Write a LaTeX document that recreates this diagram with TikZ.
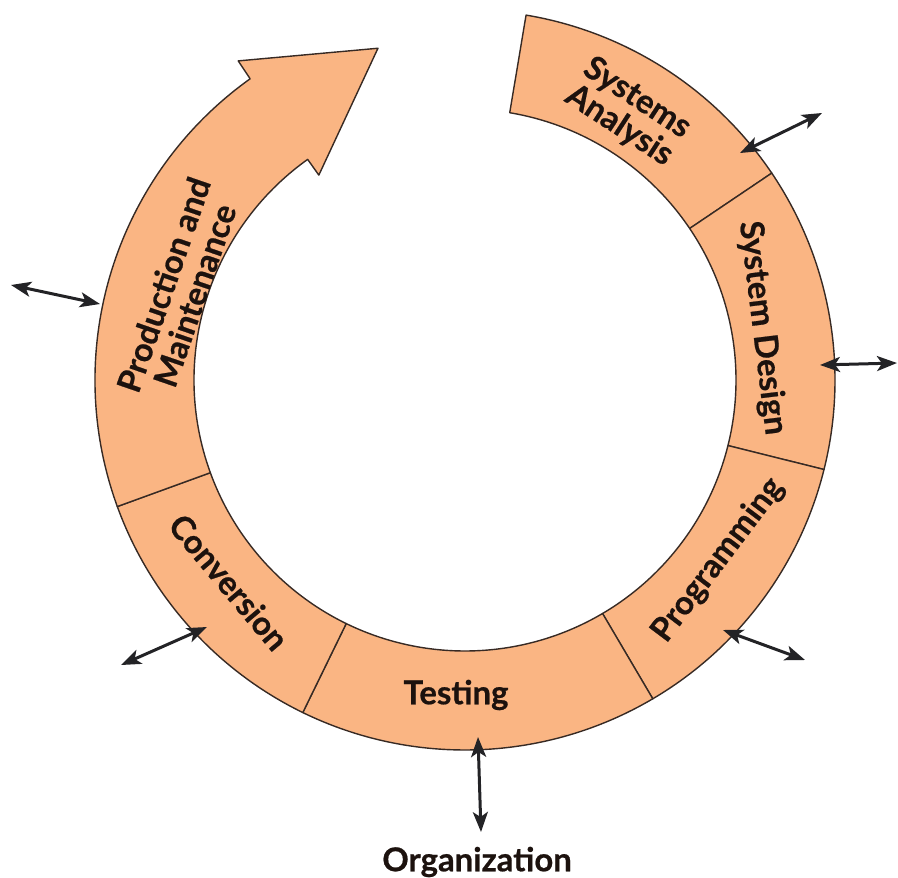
\documentclass[tikz,border=0pt]{standalone}
\usepackage{fontspec}
\setmainfont{Lato}[BoldFeatures={FakeBold=0.6}]
\usetikzlibrary{arrows.meta}
\definecolor{ringfill}{RGB}{250,181,131}
\definecolor{inkline}{RGB}{55,42,36}
\definecolor{arrowink}{RGB}{35,35,38}
\definecolor{txt}{RGB}{28,18,14}
\begin{document}
\begin{tikzpicture}[x=1bp,y=1bp,
  seg/.style={fill=ringfill, draw=inkline, line width=1.4bp, line join=round},
  lbl/.style={font=\bfseries\fontsize{33}{33}\selectfont, text=txt, align=center, inner sep=0pt},
  tip/.tip={Stealth[length=20bp,width=15bp,inset=5bp]},
  dbl/.style={arrows={tip-tip}, line width=3bp, draw=arrowink}]
\useasboundingbox (0,0) rectangle (898,-878);
\begin{scope}[shift={(465,-380)}]
  \def\Ro{370}\def\Ri{271}
  % Systems Analysis
  \draw[seg] (80.5:\Ro) arc[start angle=80.5,end angle=34,radius=\Ro]
    -- (34:\Ri) arc[start angle=34,end angle=80.5,radius=\Ri] -- cycle;
  % System Design
  \draw[seg] (34:\Ro) arc[start angle=34,end angle=-14,radius=\Ro]
    -- (-14:\Ri) arc[start angle=-14,end angle=34,radius=\Ri] -- cycle;
  % Programming
  \draw[seg] (-14:\Ro) arc[start angle=-14,end angle=-59.5,radius=\Ro]
    -- (-59.5:\Ri) arc[start angle=-59.5,end angle=-14,radius=\Ri] -- cycle;
  % Testing
  \draw[seg] (-59.5:\Ro) arc[start angle=-59.5,end angle=-116,radius=\Ro]
    -- (-116:\Ri) arc[start angle=-116,end angle=-59.5,radius=\Ri] -- cycle;
  % Conversion
  \draw[seg] (-116:\Ro) arc[start angle=-116,end angle=-160,radius=\Ro]
    -- (-160:\Ri) arc[start angle=-160,end angle=-116,radius=\Ri] -- cycle;
  % Production and Maintenance (with arrow head)
  \draw[seg] (200:\Ro) arc[start angle=200,end angle=125.5,radius=\Ro]
    -- (125.4:391.5) -- (104.7:343) -- (125.5:251.7)
    -- (125.5:\Ri) arc[start angle=125.5,end angle=200,radius=\Ri] -- cycle;
\end{scope}

% labels
\node[lbl, rotate=-33] (sa) at (628,-112) {Systems\\Analysis};
\node[lbl, rotate=-83] (sd) at (762,-328) {System Design};
\node[lbl, rotate=53] (pg) at (718,-560) {Programming};
\node[lbl] (ts) at (456,-695) {Testing};
\node[lbl, rotate=-50] (cv) at (229,-582) {Conversion};
\node[lbl, rotate=71] (pm) at (179,-290) {Production and\\Maintenance};
\node[lbl, font=\bfseries\fontsize{33}{36}\selectfont] (org) at (477,-862) {Organization};

% interaction arrows
\coordinate (saI) at (740,-153); \coordinate (saO) at (822,-113);
\coordinate (sdI) at (820,-365); \coordinate (sdO) at (897,-363);
\coordinate (pgI) at (723,-630); \coordinate (pgO) at (805,-660);
\coordinate (tsI) at (478,-737); \coordinate (tsO) at (481,-832);
\coordinate (cvI) at (207,-627); \coordinate (cvO) at (121,-665);
\coordinate (pmI) at (100,-304); \coordinate (pmO) at (11,-285);
\draw[dbl] (saI) -- (saO);
\draw[dbl] (sdI) -- (sdO);
\draw[dbl] (pgI) -- (pgO);
\draw[dbl] (tsI) -- (tsO);
\draw[dbl] (cvI) -- (cvO);
\draw[dbl] (pmI) -- (pmO);
\end{tikzpicture}
\end{document}
